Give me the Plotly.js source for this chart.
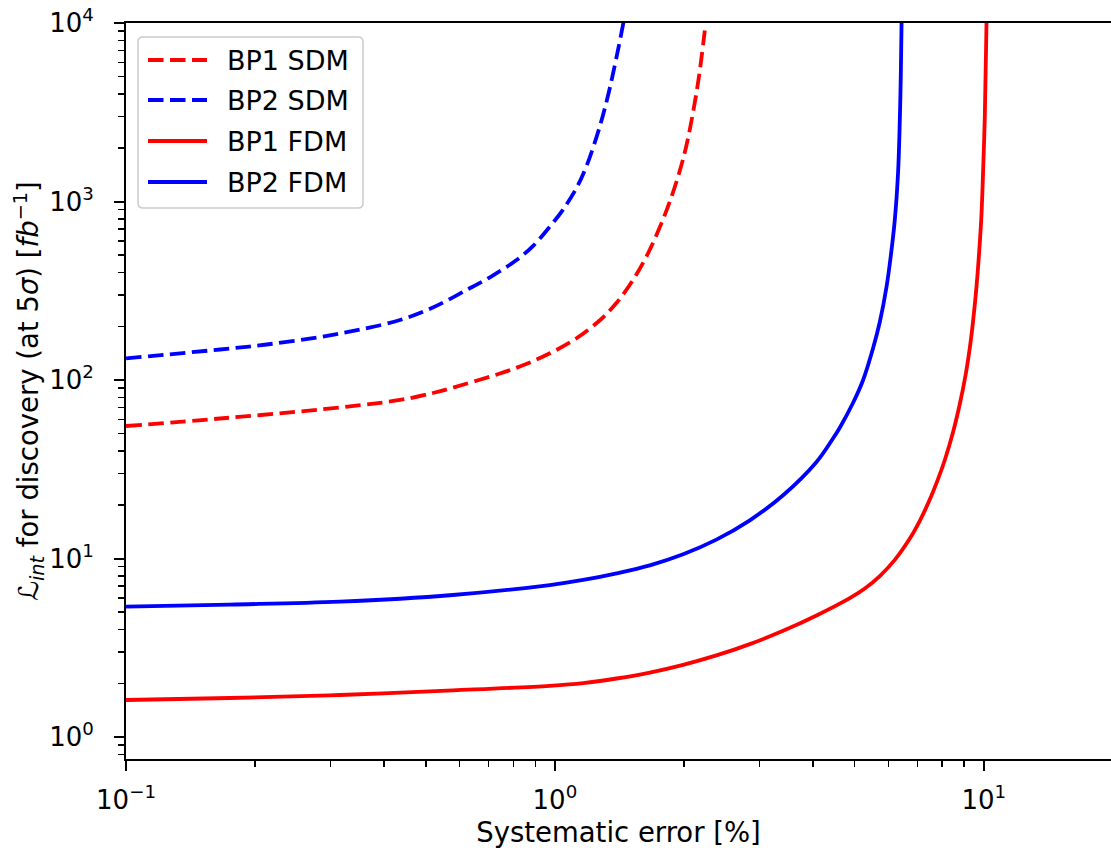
<!DOCTYPE html>
<html><head><meta charset="utf-8">
<script src="https://cdn.plot.ly/plotly-3.0.1.min.js"></script>
<style>html,body{margin:0;padding:0;background:#fff;}#chart{width:1111px;height:848px;}</style>
</head><body><div id="chart"></div>
<script>
// ---- data ----
const seriesNames = ["BP1 SDM", "BP2 SDM", "BP1 FDM", "BP2 FDM"];
const seriesColors = ["#ff0000", "#0000ff", "#ff0000", "#0000ff"];
const seriesDashed = [true, true, false, false];

const bp1SdmX = [0.1, 0.1656, 0.2833, 0.4353, 0.5195, 0.569, 0.7444, 0.8514, 0.9734, 1.1133, 1.2734, 1.3926, 1.5199, 1.6358, 1.7571, 1.8538, 1.9561, 2.0276, 2.0973, 2.1659, 2.2368];
const bp1SdmY = [55.24, 60.85, 68.34, 77.27, 84.56, 89.62, 108.7, 122.1, 141.1, 169.0, 216.1, 270.7, 361.9, 493.3, 719.7, 1000, 1492, 2073, 3112, 4951, 9078];

const bp2SdmX = [0.1, 0.1656, 0.2128, 0.2833, 0.3511, 0.4353, 0.5195, 0.6226, 0.7118, 0.8141, 0.8887, 0.9734, 1.0439, 1.1234, 1.1855, 1.251, 1.2961, 1.3435, 1.3926, 1.4428, 1.4623];
const bp2SdmY = [132.3, 148.2, 158.1, 174.1, 191.6, 216.8, 254.8, 319.4, 381.1, 470.1, 562.5, 723.5, 898.6, 1192, 1583, 2301, 3072, 4340, 6458, 9886, 11995];

const bp1FdmX = [0.1, 0.1747, 0.3155, 0.578, 0.973, 1.164, 1.393, 1.665, 1.991, 2.38, 2.848, 3.405, 4.074, 4.871, 5.28, 5.723, 6.202, 6.723, 7.093, 7.483, 7.814, 8.113, 8.481, 8.793, 9.079, 9.277, 9.443, 9.616, 9.752, 9.877, 9.963, 10.054, 10.102, 10.146, 10.178];
const bp1FdmY = [1.612, 1.654, 1.719, 1.824, 1.934, 2.002, 2.127, 2.297, 2.538, 2.865, 3.315, 3.936, 4.799, 6.001, 6.79, 7.97, 9.82, 12.93, 16.26, 21.38, 27.67, 35.63, 51.13, 73.38, 108.1, 151.1, 214.1, 331.9, 514.5, 840.5, 1463, 2936, 5453, 9746, 25000];

const bp2FdmX = [0.1, 0.1747, 0.3155, 0.578, 0.973, 1.164, 1.393, 1.665, 1.991, 2.38, 2.848, 3.405, 4.074, 4.446, 4.616, 4.958, 5.232, 5.521, 5.723, 5.932, 6.07, 6.202, 6.313, 6.372, 6.406, 6.431, 6.451];
const bp2FdmY = [5.37, 5.52, 5.73, 6.245, 7.10, 7.58, 8.26, 9.16, 10.56, 12.76, 16.37, 22.60, 34.72, 46.83, 54.05, 74.54, 100, 151.1, 211.3, 331.9, 495.2, 787.8, 1463, 2861, 5113, 9746, 20000];

const xTickVals = [0.1, 1, 10];
const xTickText = ["10<sup>\u22121</sup>", "10<sup>0</sup>", "10<sup>1</sup>"];
const yTickVals = [1, 10, 100, 1000, 10000];
const yTickText = ["10<sup>0</sup>", "10<sup>1</sup>", "10<sup>2</sup>", "10<sup>3</sup>", "10<sup>4</sup>"];

const xTitle = "Systematic error [%]";
const yTitle = "<i>\u2112</i><sub><i>int</i></sub> for discovery (at 5<i>\u03c3</i>) [<i>fb</i><sup>\u22121</sup>]";

// ---- build ----
const FONT = "DejaVu Sans";
const DASH = "15.5px,6.5px";
const LW = 3.8;
const xs = [bp1SdmX, bp2SdmX, bp1FdmX, bp2FdmX];
const ys = [bp1SdmY, bp2SdmY, bp1FdmY, bp2FdmY];

const traces = seriesNames.map((n, i) => ({
  type: "scatter", mode: "lines", name: n,
  x: xs[i], y: ys[i], showlegend: false,
  line: {color: seriesColors[i], width: LW, dash: seriesDashed[i] ? DASH : "solid", shape: "spline", smoothing: 1}
}));

function minorVals(lo, hi) {
  const out = [];
  for (let k = -2; k <= 4; k++) for (let m = 2; m <= 9; m++) {
    const v = m * Math.pow(10, k);
    if (v >= lo && v <= hi) out.push(v);
  }
  return out;
}

// plot area in px
const W = 1111, H = 848, L = 126, R = 0, T = 23, B = 89;
const pw = W - L - R, ph = H - T - B;
const px2x = p => (p - L) / pw;
const py2y = p => (H - B - p) / ph;

// manual legend (matplotlib style)
const bx0 = px2x(138), bx1 = px2x(363), by0 = py2y(208), by1 = py2y(37);
const rx = 5 / pw, ry = 5 / ph;
const boxPath = `M ${bx0+rx},${by1} L ${bx1-rx},${by1} Q ${bx1},${by1} ${bx1},${by1-ry} L ${bx1},${by0+ry} Q ${bx1},${by0} ${bx1-rx},${by0} L ${bx0+rx},${by0} Q ${bx0},${by0} ${bx0},${by0+ry} L ${bx0},${by1-ry} Q ${bx0},${by1} ${bx0+rx},${by1} Z`;
const rowsPx = [60, 100, 141, 182];
const shapes = [{type: "path", xref: "paper", yref: "paper", path: boxPath,
  fillcolor: "rgba(255,255,255,0.85)", line: {color: "#cccccc", width: 1.5}, layer: "above"}];
const annotations = [];
seriesNames.forEach((n, i) => {
  const yy = py2y(rowsPx[i]);
  shapes.push({type: "line", xref: "paper", yref: "paper", x0: px2x(148), x1: px2x(207), y0: yy, y1: yy,
    line: {color: seriesColors[i], width: LW, dash: seriesDashed[i] ? DASH : "solid"}, layer: "above"});
  annotations.push({xref: "paper", yref: "paper", x: px2x(225), y: yy, xanchor: "left", yanchor: "middle",
    text: n, showarrow: false, font: {family: FONT, size: 27, color: "#000"}});
});

const layout = {
  width: W, height: H,
  margin: {l: L, r: R, t: T, b: B, pad: 0},
  paper_bgcolor: "#fff", plot_bgcolor: "#fff",
  font: {family: FONT, color: "#000"},
  showlegend: false,
  xaxis: {
    type: "log", range: [-1, Math.log10(19.8)], showgrid: false, zeroline: false,
    showline: true, linecolor: "#000", linewidth: 2, mirror: true,
    ticks: "outside", ticklen: 10, tickwidth: 2, tickcolor: "#000",
    tickmode: "array", tickvals: xTickVals, ticktext: xTickText, ticklabelstandoff: 7,
    tickfont: {family: FONT, size: 26, color: "#000"},
    minor: {tickmode: "array", tickvals: minorVals(0.1, 19.8), ticks: "outside", ticklen: 6, tickwidth: 1.5, tickcolor: "#000", showgrid: false},
    title: {text: xTitle, font: {family: FONT, size: 27.5, color: "#000"}, standoff: 12},
    automargin: false
  },
  yaxis: {
    type: "log", range: [Math.log10(0.753), 4], showgrid: false, zeroline: false,
    showline: true, linecolor: "#000", linewidth: 2, mirror: false,
    ticks: "outside", ticklen: 10, tickwidth: 2, tickcolor: "#000",
    tickmode: "array", tickvals: yTickVals, ticktext: yTickText, ticklabelstandoff: 15,
    tickfont: {family: FONT, size: 26, color: "#000"},
    minor: {tickmode: "array", tickvals: minorVals(0.753, 10000), ticks: "outside", ticklen: 6, tickwidth: 1.5, tickcolor: "#000", showgrid: false},
    title: {text: yTitle, font: {family: FONT, size: 27.5, color: "#000"}, standoff: 0},
    automargin: false
  },
  shapes: shapes,
  annotations: annotations
};

Plotly.newPlot("chart", traces, layout, {displayModeBar: false, staticPlot: true});
</script>
</body></html>
